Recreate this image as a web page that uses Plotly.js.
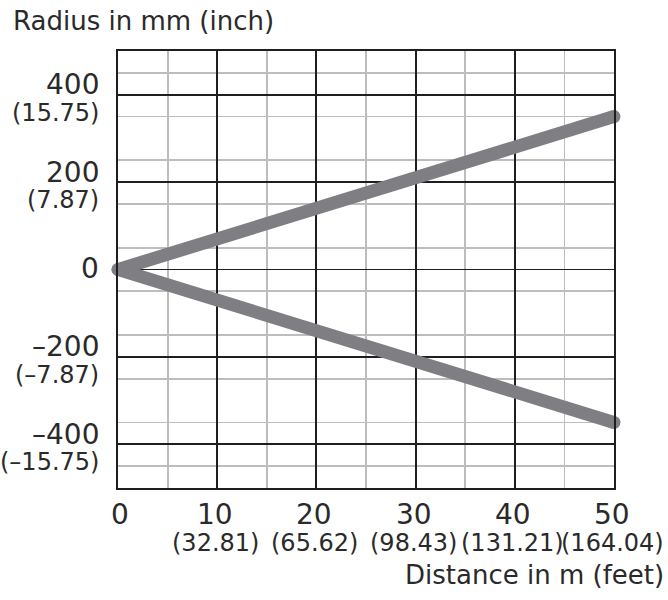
<!DOCTYPE html>
<html>
<head>
<meta charset="utf-8">
<script src="https://cdn.plot.ly/plotly-3.0.1.min.js"></script>
<style>html,body{margin:0;padding:0;background:#fff;}#chart{width:668px;height:600px;}</style>
</head>
<body>
<div id="chart"></div>
<script>
// Data
const distanceM = [0, 50];
const upperRadiusMm = [0, 350];
const lowerRadiusMm = [0, -350];

// Tick labels
const xTickVals = [0, 10, 20, 30, 40, 50];
const xTickMain = ['0', '10', '20', '30', '40', '50'];
const xTickSub = ['', '(32.81)', '(65.62)', '(98.43)', '(131.21)', '(164.04)'];
const yTickVals = [400, 200, 0, -200, -400];
const yTickMain = ['400', '200', '0', '\u2013200', '\u2013400'];
const yTickSub = ['(15.75)', '(7.87)', '', '(\u20137.87)', '(\u201315.75)'];

const titleText = 'Radius in mm (inch)';
const xTitleText = 'Distance in m (feet)';

const FONT = 'DejaVu Sans, sans-serif';
const TXT = '#2a2a2a';
const LINE_COLOR = '#7f7f83';

const traces = [upperRadiusMm, lowerRadiusMm].map(ys => ({
  type: 'scatter',
  mode: 'lines+markers',
  x: distanceM,
  y: ys,
  line: {color: LINE_COLOR, width: 13},
  marker: {color: LINE_COLOR, size: 13},
  cliponaxis: false,
  hoverinfo: 'skip',
  showlegend: false
}));

const annotations = [];
yTickVals.forEach((v, i) => {
  const hasSub = yTickSub[i] !== '';
  annotations.push({
    xref: 'paper', yref: 'y', x: 0, y: v, xanchor: 'right', yanchor: 'middle',
    xshift: -17, yshift: hasSub ? 10 : 1, showarrow: false,
    text: yTickMain[i], font: {family: FONT, size: 28, color: TXT}
  });
  if (hasSub) {
    annotations.push({
      xref: 'paper', yref: 'y', x: 0, y: v, xanchor: 'right', yanchor: 'middle',
      xshift: -17, yshift: -18, showarrow: false,
      text: yTickSub[i], font: {family: FONT, size: 24, color: TXT}
    });
  }
});
xTickVals.forEach((v, i) => {
  annotations.push({
    xref: 'x', yref: 'paper', x: v, y: 0, xanchor: 'center', yanchor: 'middle',
    xshift: v === 0 ? 2 : -2, yshift: -26, showarrow: false,
    text: xTickMain[i], font: {family: FONT, size: 28, color: TXT}
  });
  if (xTickSub[i] !== '') {
    annotations.push({
      xref: 'x', yref: 'paper', x: v, y: 0, xanchor: 'center', yanchor: 'middle',
      xshift: -2, yshift: -55, showarrow: false,
      text: xTickSub[i], font: {family: FONT, size: 24, color: TXT}
    });
  }
});
annotations.push({
  xref: 'paper', yref: 'paper', x: 1, y: 0, xanchor: 'right', yanchor: 'middle',
  xshift: 52, yshift: -87, showarrow: false,
  text: xTitleText, font: {family: FONT, size: 26, color: TXT}
});

const layout = {
  width: 668, height: 600,
  margin: {l: 118, r: 54, t: 51, b: 112},
  paper_bgcolor: '#fff', plot_bgcolor: '#fff',
  showlegend: false,
  title: {
    text: titleText, xref: 'container', yref: 'container',
    x: 13 / 668, xanchor: 'left', y: 1 - 21 / 600, yanchor: 'middle',
    font: {family: FONT, size: 26, color: TXT}
  },
  xaxis: {
    range: [0, 50], tick0: 0, dtick: 10, showticklabels: false, ticks: '',
    showgrid: true, gridcolor: '#1e1e1e', gridwidth: 1.8,
    minor: {tick0: 5, dtick: 10, showgrid: true, gridcolor: '#bdbdbd', gridwidth: 1.8, ticks: ''},
    zeroline: false, showline: true, linecolor: '#1e1e1e', linewidth: 2, mirror: true,
    fixedrange: true
  },
  yaxis: {
    range: [-500, 500], tick0: 0, dtick: 200, showticklabels: false, ticks: '',
    showgrid: true, gridcolor: '#1e1e1e', gridwidth: 1.8,
    minor: {tick0: 50, dtick: 100, showgrid: true, gridcolor: '#bdbdbd', gridwidth: 1.8, ticks: ''},
    zeroline: false, showline: true, linecolor: '#1e1e1e', linewidth: 2, mirror: true,
    fixedrange: true
  },
  annotations: annotations
};

Plotly.newPlot('chart', traces, layout, {displayModeBar: false, staticPlot: true});
</script>
</body>
</html>
